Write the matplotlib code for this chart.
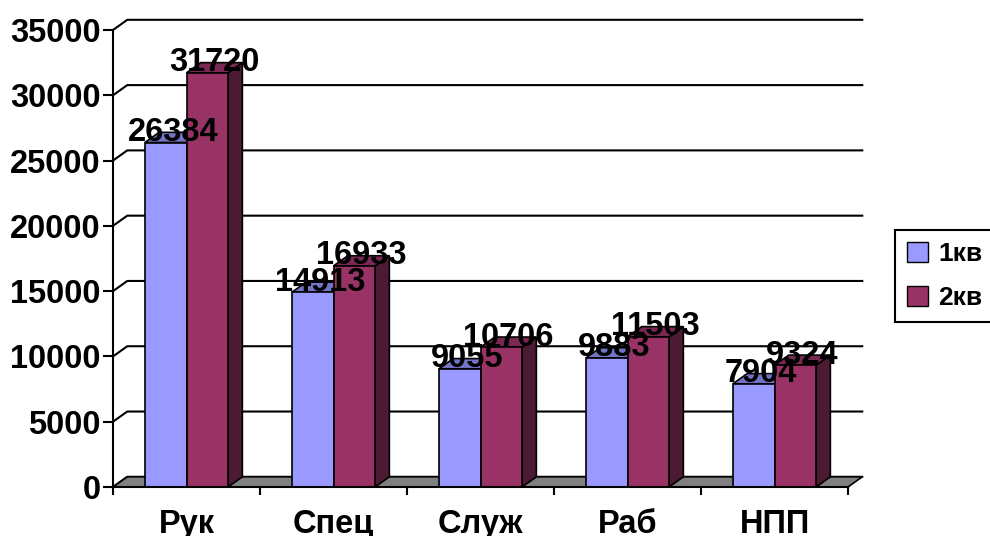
import matplotlib.pyplot as plt
from matplotlib.patches import Polygon, Patch
import numpy as np

plt.rcParams['font.family'] = ['Liberation Sans', 'DejaVu Sans']
plt.rcParams['font.weight'] = 'bold'

# data
categories = ['Рук', 'Спец', 'Служ', 'Раб', 'НПП']
q1 = [26384, 14913, 9055, 9883, 7904]
q2 = [31720, 16933, 10706, 11503, 9324]
series_names = ['1кв', '2кв']
yticks = [0, 5000, 10000, 15000, 20000, 25000, 30000, 35000]

# colours: front, top, side
c1 = ('#9999FF', '#7373C8', '#5C5CA6')
c2 = ('#993366', '#7A2952', '#4D1A33')

# fake 3D depth (in data units)
DX = 0.097
DY = 780
w = 0.283
FS = 23.5

fig = plt.figure(figsize=(9.9, 5.36), dpi=100)
ax = fig.add_axes([113/990, 49/536, 735/990, 457/536])
ax.set_xlim(-0.5, 4.5)
ax.set_ylim(0, 35000)

# back wall gridlines with the diagonal to the front axis
for v in yticks:
    ax.plot([-0.5, -0.5 + DX, 4.5 + DX], [v, v + DY, v + DY],
            color='black', lw=1.5, clip_on=False, zorder=1)

# grey floor
floor = Polygon([(-0.5, 0), (4.5, 0), (4.5 + DX, DY), (-0.5 + DX, DY)],
                closed=True, facecolor='#808080', edgecolor='black',
                lw=1.2, clip_on=False, zorder=2)
ax.add_patch(floor)


def bar3d(x0, h, cols, z):
    side = [(x0 + w, 0), (x0 + w + DX, DY), (x0 + w + DX, h + DY), (x0 + w, h)]
    top = [(x0, h), (x0 + w, h), (x0 + w + DX, h + DY), (x0 + DX, h + DY)]
    ax.add_patch(Polygon(side, closed=True, facecolor=cols[2],
                         edgecolor='black', lw=1.2, clip_on=False, zorder=z))
    ax.add_patch(Polygon(top, closed=True, facecolor=cols[1],
                         edgecolor='black', lw=1.2, clip_on=False, zorder=z))
    ax.bar(x0, h, width=w, align='edge', color=cols[0],
           edgecolor='black', lw=1.2, zorder=z + 0.1, clip_on=False)


x = np.arange(len(categories))
for i in x:
    bar3d(i - w, q1[i], c1, 3)
    bar3d(i, q2[i], c2, 4)

for i in x:
    for x0, v in ((i - w, q1[i]), (i, q2[i])):
        ax.text(x0 + w / 2 + DX / 2, v + DY, str(v), ha='center', va='center',
                fontsize=FS, fontweight='bold', zorder=10)

for s in ['top', 'right']:
    ax.spines[s].set_visible(False)
ax.spines['left'].set_linewidth(1.5)
ax.spines['bottom'].set_linewidth(1.5)
ax.spines['left'].set_zorder(5)
ax.spines['bottom'].set_zorder(5)

ax.set_yticks(yticks)
ax.set_yticklabels([str(v) for v in yticks], fontsize=FS, fontweight='bold')
ax.tick_params(axis='y', length=7, width=1.5, pad=2)

ax.set_xticks(np.arange(-0.5, 5, 1))
ax.set_xticklabels([])
ax.tick_params(axis='x', which='major', length=6, width=1.5)
ax.set_xticks(x, minor=True)
ax.set_xticklabels(categories, minor=True, fontsize=FS, fontweight='bold')
ax.tick_params(axis='x', which='minor', length=0, pad=15.5)

handles = [Patch(facecolor=c1[0], edgecolor='black'),
           Patch(facecolor=c2[0], edgecolor='black')]
leg = fig.legend(handles, series_names, loc='upper left',
                 bbox_to_anchor=(895/990, 1 - 230/536), borderaxespad=0,
                 prop={'size': 19, 'weight': 'bold'},
                 handlelength=0.8, handleheight=0.8, handletextpad=0.4,
                 borderpad=0.45, labelspacing=0.75, fancybox=False,
                 framealpha=1, edgecolor='black')
leg.get_frame().set_linewidth(1.5)

fig.savefig('out.png', dpi=100)
